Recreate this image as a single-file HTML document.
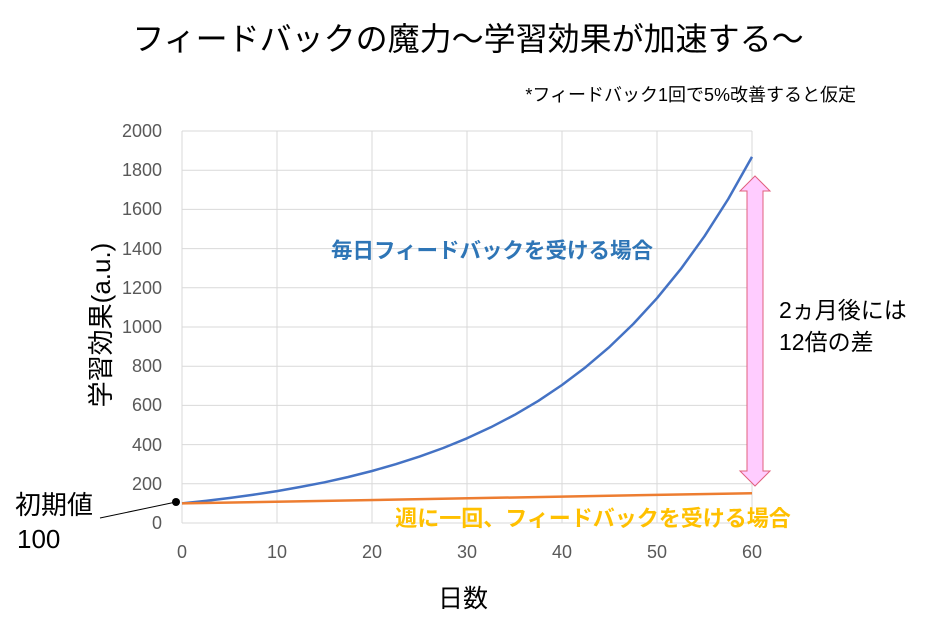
<!DOCTYPE html>
<html><head><meta charset="utf-8"><style>
body{margin:0;width:926px;height:628px;background:#fff;overflow:hidden;font-family:"Liberation Sans","Noto Sans CJK JP",sans-serif}
</style></head><body>
<svg width="926" height="628" xmlns="http://www.w3.org/2000/svg" font-family="Liberation Sans, Noto Sans CJK JP, sans-serif">
<text x="468" y="50" font-size="32" text-anchor="middle" fill="#000">フィードバックの魔力～学習効果が加速する～</text>
<text x="856" y="101" font-size="18" text-anchor="end" fill="#000">*フィードバック1回で5%改善すると仮定</text>
<g stroke="#d9d9d9" stroke-width="1">
<line x1="182" y1="131" x2="752" y2="131"/><line x1="182" y1="170.2" x2="752" y2="170.2"/><line x1="182" y1="209.4" x2="752" y2="209.4"/><line x1="182" y1="248.6" x2="752" y2="248.6"/><line x1="182" y1="287.8" x2="752" y2="287.8"/><line x1="182" y1="327" x2="752" y2="327"/><line x1="182" y1="366.2" x2="752" y2="366.2"/><line x1="182" y1="405.4" x2="752" y2="405.4"/><line x1="182" y1="444.6" x2="752" y2="444.6"/><line x1="182" y1="483.8" x2="752" y2="483.8"/><line x1="182" y1="523" x2="752" y2="523"/>
<line x1="182" y1="131" x2="182" y2="523"/><line x1="277" y1="131" x2="277" y2="523"/><line x1="372" y1="131" x2="372" y2="523"/><line x1="467" y1="131" x2="467" y2="523"/><line x1="562" y1="131" x2="562" y2="523"/><line x1="657" y1="131" x2="657" y2="523"/><line x1="752" y1="131" x2="752" y2="523"/>
</g>
<g font-size="18" fill="#595959" text-anchor="end">
<text x="162" y="137">2000</text><text x="162" y="176">1800</text><text x="162" y="215">1600</text><text x="162" y="255">1400</text><text x="162" y="294">1200</text><text x="162" y="333">1000</text><text x="162" y="372">800</text><text x="162" y="411">600</text><text x="162" y="451">400</text><text x="162" y="490">200</text><text x="162" y="529">0</text>
</g>
<g font-size="18" fill="#595959" text-anchor="middle">
<text x="182" y="558">0</text><text x="277" y="558">10</text><text x="372" y="558">20</text><text x="467" y="558">30</text><text x="562" y="558">40</text><text x="657" y="558">50</text><text x="752" y="558">60</text>
</g>
<text x="463" y="607" font-size="25" text-anchor="middle" fill="#000">日数</text>
<text transform="translate(110,325) rotate(-90)" font-size="26" text-anchor="middle" fill="#000">学習効果(a.u.)</text>
<polyline fill="none" stroke="#4472c4" stroke-width="2.5" stroke-linejoin="round" points="182,503.4 205.75,500.9 229.5,498 253.25,494.7 277,491.1 300.75,486.9 324.5,482.3 348.25,477 372,471 395.75,464.2 419.5,456.6 443.25,448 467,438.3 490.75,427.3 514.5,414.9 538.25,400.9 562,385 585.75,367.1 609.5,346.9 633.25,324 657,298.2 680.75,269.1 704.5,236.2 728.25,199 752,156.9"/>
<line x1="182" y1="503.4" x2="752" y2="493.2" stroke="#ed7d31" stroke-width="2.5"/>
<text x="492" y="258" font-size="21.5" font-weight="bold" fill="#2e75b6" text-anchor="middle">毎日フィードバックを受ける場合</text>
<text x="593" y="526" font-size="22" font-weight="bold" fill="#ffc000" text-anchor="middle">週に一回、フィードバックを受ける場合</text>
<polygon points="755,176 770,191 763,191 763,471 770,471 755,486 740,471 747,471 747,191 740,191" fill="#ffccff" stroke="#e0607e" stroke-width="1"/>
<text x="779" y="318" font-size="23" fill="#000">2ヵ月後には</text>
<text x="779" y="350" font-size="23" fill="#000">12倍の差</text>
<circle cx="176" cy="502" r="4" fill="#000"/>
<line x1="176" y1="502" x2="100" y2="518" stroke="#000" stroke-width="1"/>
<text x="15" y="514" font-size="26" fill="#000">初期値</text>
<text x="17" y="548" font-size="26" fill="#000">100</text>
</svg>
</body></html>
